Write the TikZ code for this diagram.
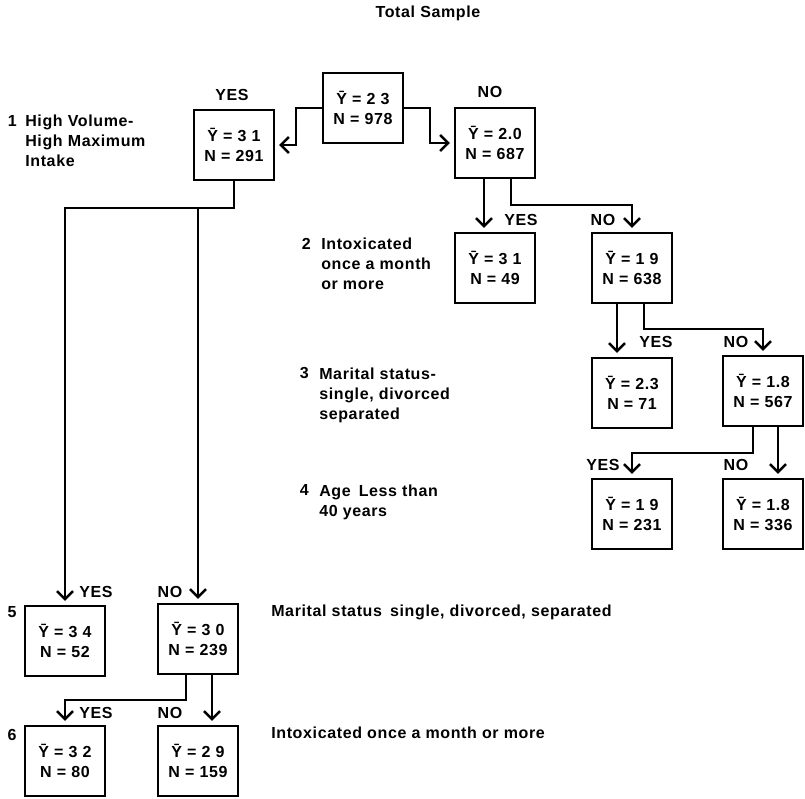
\documentclass[tikz,border=0pt]{standalone}
\usepackage{fontspec}
\setmainfont{Liberation Sans}[LetterSpace=4]
\usetikzlibrary{arrows.meta, positioning}

\begin{document}
\begin{tikzpicture}[x=1pt, y=-1pt, line width=2.5pt,
    every node/.style={font=\fontsize{16}{20}\bfseries, inner sep=1pt}]
        \tikzset{
            statbox/.style={draw, line width=2.3pt, minimum width=80pt, minimum height=70pt, align=center, inner sep=0pt},
            tag/.style={inner sep=1pt},
            note/.style={align=left, anchor=west, inner sep=0pt},
            num/.style={anchor=north east, inner sep=0pt},
            arr/.style={-{Straight Barb[length=8pt, width=16pt]}, shorten >=4pt}
        }
        \useasboundingbox (0,0) rectangle (805,798);

        % Title
        \node (title) at (428,13) {Total Sample};

        % Boxes
        \node[statbox] (n978) at (363,108) {\={Y} = 2 3\\N = 978};
        \node[statbox] (n291) at (234,145) {\={Y} = 3 1\\N = 291};
        \node[statbox] (n687) at (495,143) {\={Y} = 2.0\\N = 687};
        \node[statbox] (n49) at (495,268) {\={Y} = 3 1\\N = 49};
        \node[statbox] (n638) at (632,268) {\={Y} = 1 9\\N = 638};
        \node[statbox] (n71) at (632,393) {\={Y} = 2.3\\N = 71};
        \node[statbox] (n567) at (763,391) {\={Y} = 1.8\\N = 567};
        \node[statbox] (n231) at (632,514) {\={Y} = 1 9\\N = 231};
        \node[statbox] (n336) at (763,514) {\={Y} = 1.8\\N = 336};
        \node[statbox] (n52) at (65,641) {\={Y} = 3 4\\N = 52};
        \node[statbox] (n239) at (198,639) {\={Y} = 3 0\\N = 239};
        \node[statbox] (n80) at (65,761) {\={Y} = 3 2\\N = 80};
        \node[statbox] (n159) at (198,761) {\={Y} = 2 9\\N = 159};

        % YES / NO tags
        \node[tag] (yes1) at (232,95) {YES};
        \node[tag] (no1) at (490,92) {NO};
        \node[tag] (yes2) at (521,220) {YES};
        \node[tag] (no2) at (603,220) {NO};
        \node[tag] (yes3) at (656,342) {YES};
        \node[tag] (no3) at (736,342) {NO};
        \node[tag] (yes4) at (603,465) {YES};
        \node[tag] (no4) at (736,465) {NO};
        \node[tag] (yes5) at (96,592) {YES};
        \node[tag] (no5) at (170,592) {NO};
        \node[tag] (yes6) at (96,713) {YES};
        \node[tag] (no6) at (170,713) {NO};

        % Split variables
        \node[note] (q1) at (24,141) {High Volume-\\High Maximum\\Intake};
        \node[num, left=6pt of q1.north west, anchor=north east] (k1) {1};
        \node[note] (q2) at (320,264) {Intoxicated\\once a month\\or more};
        \node[num, left=8pt of q2.north west, anchor=north east] (k2) {2};
        \node[note] (q3) at (318,395) {Marital status-\\single, divorced\\separated};
        \node[num, left=8pt of q3.north west, anchor=north east] (k3) {3};
        \node[note] (q4) at (318,502) {Age\enspace Less than\\40 years};
        \node[num, left=8pt of q4.north west, anchor=north east] (k4) {4};
        \node (k5) at (12,612) {5};
        \node[note] (q5) at (270,612) {Marital status\enspace single, divorced, separated};
        \node (k6) at (12,735) {6};
        \node[note] (q6) at (270,733) {Intoxicated once a month or more};

        % Connections
        \draw[arr] (n978.west) -- ++(-26,0) |- (n291.east);
        \draw[arr] (n978.east) -- ++(26,0) |- (n687.west);
        \draw[arr] (n291.south) -- ++(0,27) coordinate (split) -| (n52.north);
        \draw[arr] (split -| n239.north) -- (n239.north);
        \draw[arr] ([xshift=-11pt]n687.south) -- ([xshift=-11pt]n49.north);
        \draw[arr] ([xshift=16pt]n687.south) -- ++(0,26) -| (n638.north);
        \draw[arr] ([xshift=-15pt]n638.south) -- ([xshift=-15pt]n71.north);
        \draw[arr] ([xshift=12pt]n638.south) -- ++(0,25) -| (n567.north);
        \draw[arr] ([xshift=-10pt]n567.south) -- ++(0,26) -| (n231.north);
        \draw[arr] ([xshift=15pt]n567.south) -- ([xshift=15pt]n336.north);
        \draw[arr] ([xshift=-12pt]n239.south) -- ++(0,25) -| (n80.north);
        \draw[arr] ([xshift=14pt]n239.south) -- ([xshift=14pt]n159.north);
    \end{tikzpicture}
\end{document}
